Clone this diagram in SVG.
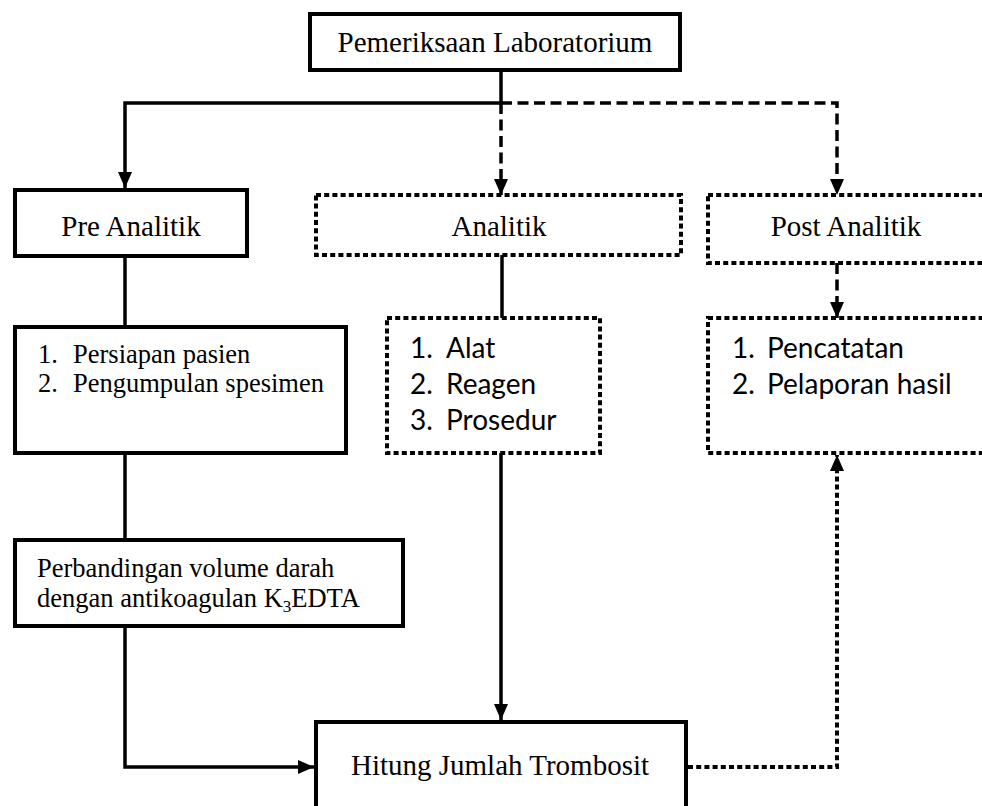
<svg xmlns="http://www.w3.org/2000/svg" width="982" height="806" viewBox="0 0 982 806">
  <style>
    .solidbox { fill: #fff; stroke: #000; stroke-width: 4; }
    .dotbox { fill: #fff; stroke: #000; stroke-width: 4; stroke-dasharray: 5 3.2; }
    .serif { font-family: "Liberation Serif", "Times New Roman", serif; fill: #000; }
    .h { font-size: 29px; }
    .s { font-size: 26.5px; }
    .sans { font-family: Lato, "Open Sans", "Liberation Sans", sans-serif; font-size: 28px; fill: #000; }
    .conn { fill: none; stroke: #000; stroke-width: 3.5; }
    .dash { stroke-dasharray: 11 5.5; }
    .dot { stroke-width: 4; stroke-dasharray: 5 3.2; }
  </style>
  <defs>
    <marker id="arrow" markerUnits="userSpaceOnUse" markerWidth="16" markerHeight="16" refX="16" refY="7" orient="auto">
      <path d="M0,0 L16,7 L0,14 Z" fill="#000"/>
    </marker>
  </defs>
  <rect width="982" height="806" fill="#fff"/>

  <g id="connectors">
    <path class="conn" d="M501,70 L501,103"/>
    <path class="conn" d="M501,103 L125,103 L125,188" marker-end="url(#arrow)"/>
    <path class="conn dash" d="M501,103 L501,195" marker-end="url(#arrow)"/>
    <path class="conn dash" d="M501,103 L837,103 L837,195" marker-end="url(#arrow)"/>
    <path class="conn" d="M125,256 L125,327"/>
    <path class="conn" d="M125,453 L125,540"/>
    <path class="conn" d="M125,626 L125,767 L314,767" marker-end="url(#arrow)"/>
    <path class="conn" d="M502,255 L502,318"/>
    <path class="conn" d="M501,453 L501,720" marker-end="url(#arrow)"/>
    <path class="conn dash" d="M837,263 L837,318" marker-end="url(#arrow)"/>
    <path class="conn dot" d="M688,767 L837,767 L837,455" marker-end="url(#arrow)"/>
  </g>

  <g id="pemeriksaan">
    <rect class="solidbox" x="310" y="14" width="370" height="56"/>
    <text class="serif h" x="495" y="52" text-anchor="middle">Pemeriksaan Laboratorium</text>
  </g>

  <g id="pre-analitik">
    <rect class="solidbox" x="15" y="190" width="232" height="66"/>
    <text class="serif h" x="131" y="236" text-anchor="middle">Pre Analitik</text>
  </g>

  <g id="analitik">
    <rect class="dotbox" x="316" y="195" width="365" height="60"/>
    <text class="serif h" x="499" y="236" text-anchor="middle">Analitik</text>
  </g>

  <g id="post-analitik">
    <rect class="dotbox" x="708" y="195" width="300" height="68"/>
    <text class="serif h" x="846" y="236" text-anchor="middle">Post Analitik</text>
  </g>

  <g id="pre-list">
    <rect class="solidbox" x="15" y="327" width="331" height="126"/>
    <text class="serif s" x="38" y="363">1.</text>
    <text class="serif s" x="73" y="363">Persiapan pasien</text>
    <text class="serif s" x="38" y="392">2.</text>
    <text class="serif s" x="73" y="392">Pengumpulan spesimen</text>
  </g>

  <g id="analitik-list">
    <rect class="dotbox" x="387" y="318" width="213" height="135"/>
    <text class="sans" x="410" y="358">1.</text>
    <text class="sans" x="446" y="358">Alat</text>
    <text class="sans" x="410" y="394">2.</text>
    <text class="sans" x="446" y="394">Reagen</text>
    <text class="sans" x="410" y="430">3.</text>
    <text class="sans" x="446" y="430">Prosedur</text>
  </g>

  <g id="post-list">
    <rect class="dotbox" x="708" y="318" width="300" height="135"/>
    <text class="sans" x="732" y="358">1.</text>
    <text class="sans" x="767" y="358">Pencatatan</text>
    <text class="sans" x="732" y="394">2.</text>
    <text class="sans" x="767" y="394">Pelaporan hasil</text>
  </g>

  <g id="perbandingan">
    <rect class="solidbox" x="15" y="540" width="388" height="86"/>
    <text class="serif s" x="37" y="577">Perbandingan volume darah</text>
    <text class="serif s" x="37" y="607">dengan antikoagulan K<tspan font-size="17" dy="5">3</tspan><tspan dy="-5">EDTA</tspan></text>
  </g>

  <g id="hitung">
    <rect class="solidbox" x="316" y="722" width="370" height="110"/>
    <text class="serif h" x="500" y="775" text-anchor="middle">Hitung Jumlah Trombosit</text>
  </g>
</svg>
